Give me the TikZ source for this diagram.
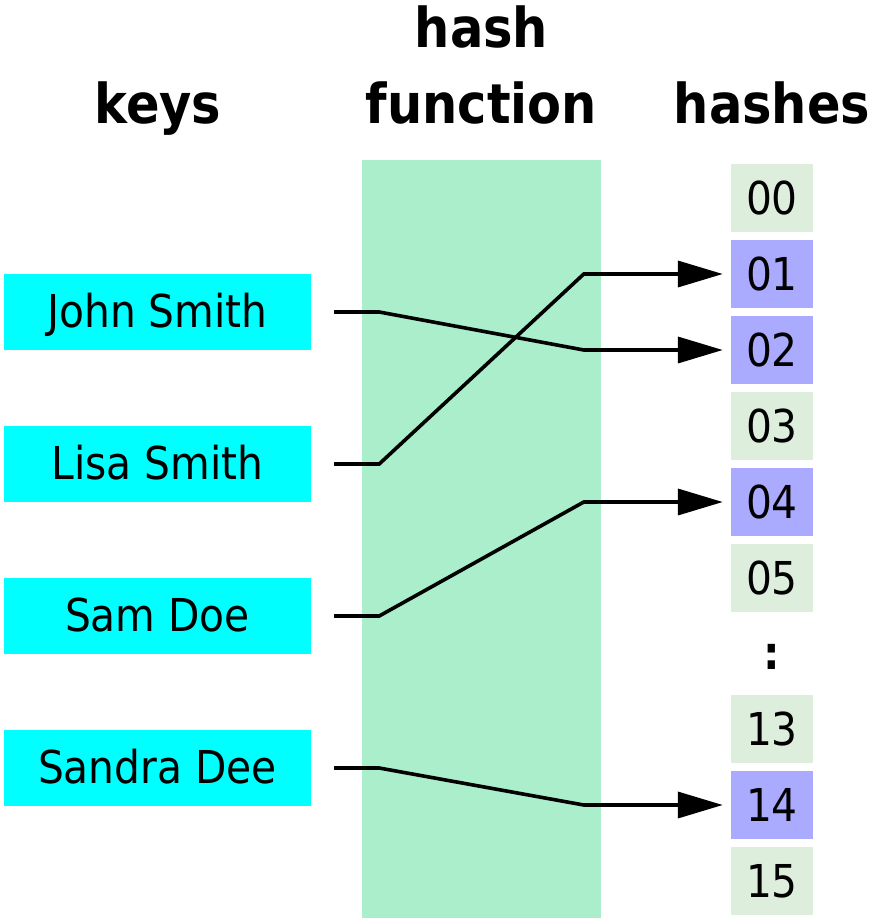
\documentclass[tikz,border=0pt]{standalone}
\usepackage{fontspec}
\setmainfont{DejaVu Sans Condensed}
\usetikzlibrary{arrows.meta}
\definecolor{keycol}{HTML}{00FFFF}
\definecolor{funccol}{HTML}{AAEECC}
\definecolor{freecol}{HTML}{DDEEDD}
\definecolor{usedcol}{HTML}{AAAAFF}
\tikzset{
  keybox/.style={fill=keycol, minimum width=307pt, minimum height=76pt, inner sep=0pt},
  cellbox/.style={minimum width=82pt, minimum height=68pt, inner sep=0pt},
  freecell/.style={cellbox, fill=freecol},
  usedcell/.style={cellbox, fill=usedcol},
  txt/.style={inner sep=0pt, anchor=base, font=\fontsize{45.3}{50}\selectfont},
  head/.style={inner sep=0pt, anchor=base, font=\fontsize{55}{76}\selectfont\bfseries},
  link/.style={line width=3.6pt, line join=miter, -{Triangle[length=45pt, width=26pt]}}
}
\begin{document}
\begin{tikzpicture}[x=1pt, y=-1pt]
\useasboundingbox (0,0) rectangle (877,924);
% headers
\node[head] (hkeys) at (158,123) {keys};
\node[head] (hhash) at (481.5,47) {hash};
\node[head] (hfunc) at (481.5,123) {function};
\node[head] (hhashes) at (772,123) {hashes};
% hash function band
\node[fill=funccol, minimum width=239pt, minimum height=758pt, inner sep=0pt, anchor=north west] (band) at (362,160) {};
% keys
\node[keybox] (k1) at (157.5,312) {};
\node[keybox] (k2) at (157.5,464) {};
\node[keybox] (k3) at (157.5,616) {};
\node[keybox] (k4) at (157.5,768) {};
\node[txt] (t1) at (157.5,327.5) {John Smith};
\node[txt] (t2) at (157.5,479.5) {Lisa Smith};
\node[txt] (t3) at (157.5,631.5) {Sam Doe};
\node[txt] (t4) at (157.5,783.5) {Sandra Dee};
% cells
\node[freecell] (c00) at (772,198) {};
\node[usedcell] (c01) at (772,274) {};
\node[usedcell] (c02) at (772,350) {};
\node[freecell] (c03) at (772,426) {};
\node[usedcell] (c04) at (772,502) {};
\node[freecell] (c05) at (772,578) {};
\node[freecell] (c13) at (772,729) {};
\node[usedcell] (c14) at (772,805) {};
\node[freecell] (c15) at (772,881) {};
\node[txt] (n00) at (772,214.5) {00};
\node[txt] (n01) at (772,290.5) {01};
\node[txt] (n02) at (772,366.5) {02};
\node[txt] (n03) at (772,442.5) {03};
\node[txt] (n04) at (772,518.5) {04};
\node[txt] (n05) at (772,594.5) {05};
\node[txt, font=\fontsize{46}{50}\selectfont\bfseries] (ndots) at (772,669) {:};
\node[txt] (n13) at (772,745.5) {13};
\node[txt] (n14) at (772,821.5) {14};
\node[txt] (n15) at (772,897.5) {15};
% connectors
\draw[link] ([xshift=23pt]k1.east) -- ++(45,0) -- ([xshift=-147pt]c02.west) -- ([xshift=-8pt]c02.west);
\draw[link] ([xshift=23pt]k2.east) -- ++(45,0) -- ([xshift=-147pt]c01.west) -- ([xshift=-8pt]c01.west);
\draw[link] ([xshift=23pt]k3.east) -- ++(45,0) -- ([xshift=-147pt]c04.west) -- ([xshift=-8pt]c04.west);
\draw[link] ([xshift=23pt]k4.east) -- ++(45,0) -- ([xshift=-147pt]c14.west) -- ([xshift=-8pt]c14.west);
\end{tikzpicture}
\end{document}
